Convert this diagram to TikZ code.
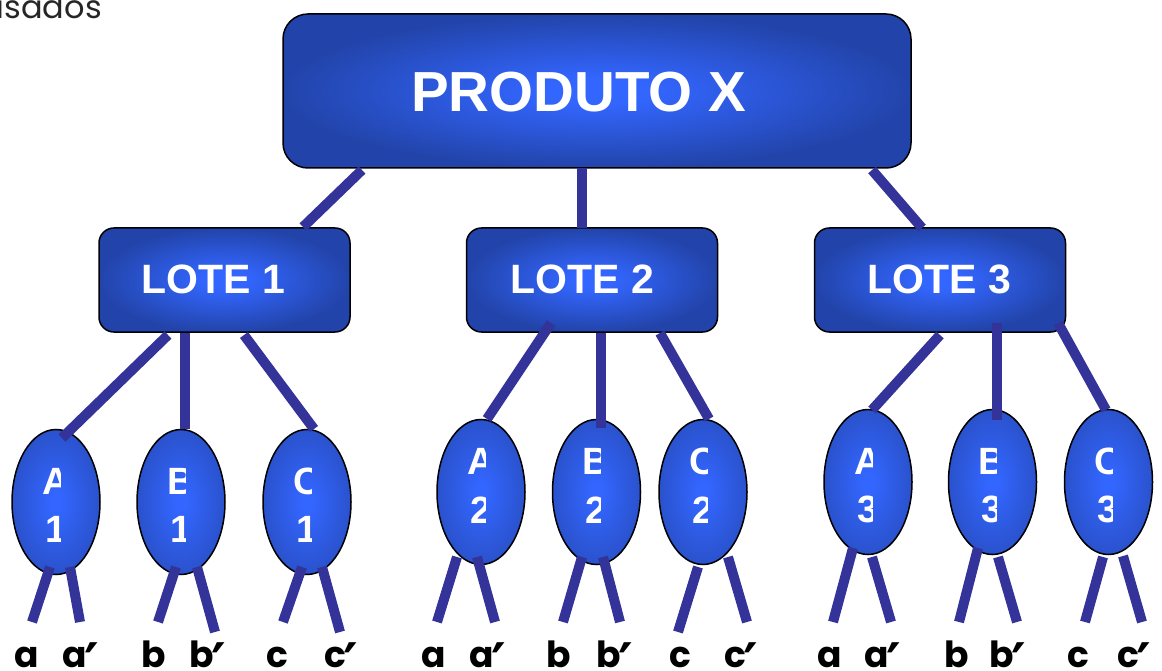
\documentclass[tikz,border=0pt]{standalone}
\usepackage{fontspec}
\setmainfont{Liberation Sans}
\newfontfamily\poppins{Poppins}
\newfontfamily\dejavu{DejaVu Sans}
\usetikzlibrary{shapes.geometric}
\definecolor{lightblue}{HTML}{3366FF}
\definecolor{boxdark}{HTML}{2244AA}
\definecolor{elldark}{HTML}{2A52CC}
\definecolor{connc}{HTML}{333399}
\pgfdeclareradialshading{boxshade}{\pgfpoint{0bp}{0bp}}{color(0bp)=(lightblue); color(4bp)=(lightblue); color(25bp)=(boxdark); color(50bp)=(boxdark)}
\pgfdeclareradialshading{ellshade}{\pgfpoint{0bp}{0bp}}{color(0bp)=(lightblue); color(3bp)=(lightblue); color(25bp)=(elldark); color(50bp)=(elldark)}
\tikzset{
  conn/.style={draw=connc, line width=10pt},
  topbox/.style={draw=black, line width=1.5pt, rounded corners=25pt, shading=boxshade, minimum width=628pt, minimum height=154pt},
  lotebox/.style={draw=black, line width=1.5pt, rounded corners=15pt, shading=boxshade, minimum width=251pt, minimum height=104pt},
  leaf/.style={ellipse, draw=black, line width=1.5pt, shading=ellshade, minimum width=88pt, minimum height=145pt, inner sep=0pt},
  boxtext/.style={text=white, font=\bfseries\fontsize{41}{48}\selectfont, inner sep=0pt},
  toptext/.style={text=white, font=\bfseries\fontsize{56.5}{62}\selectfont, inner sep=0pt},
  leaftext/.style={text=white, font=\bfseries\fontsize{38}{44}\selectfont, inner sep=0pt},
  lab/.style={anchor=base west, inner sep=0pt, text depth=0pt, font=\poppins\bfseries\fontsize{36}{40}\selectfont},
}
\newcommand\primech{\kern-2pt\raisebox{-16pt}{\dejavu\bfseries\fontsize{56}{60}\selectfont ′}}
% leaf with clipped two-line text: name, cx, cy, letter, digit, dy1, dy2
\newcommand\DrawLeaf[7]{%
  \node[leaf] (#1) at (#2,#3) {};
  \begin{scope}
    \clip (#2-40,#3-70) rectangle (#2+4,#3+70);
    \node[leaftext] (#1l) at (#2,#3+#6) {#4};
    \node[leaftext] (#1d) at (#2,#3+#7) {#5};
  \end{scope}
}
\begin{document}
\begin{tikzpicture}[x=1pt,y=-1pt]
\useasboundingbox (0,0) rectangle (1162,671);

\node[anchor=base west, inner sep=0pt, text=black!85, font=\poppins\fontsize{32}{36}\selectfont] (cap) at (-3.5,19) {isados};

% boxes
\node[topbox] (P) at (597,91) {};
\node[toptext] (Pt) at (578.5,92) {PRODUTO X};
\node[lotebox] (L1) at (224.5,280) {};
\node[boxtext] (L1t) at (213.5,279) {LOTE 1};
\node[lotebox] (L2) at (592,280) {};
\node[boxtext] (L2t) at (582.5,279) {LOTE 2};
\node[lotebox] (L3) at (940,280) {};
\node[boxtext] (L3t) at (939.5,279) {LOTE 3};

% leaves
\DrawLeaf{A1}{56}{502}{A}{1}{-21}{27}
\DrawLeaf{B1}{181}{502}{B}{1}{-21}{27}
\DrawLeaf{C1}{307}{502}{C}{1}{-21}{27}
\DrawLeaf{A2}{481}{492}{A}{2}{-31}{18}
\DrawLeaf{B2}{596.5}{492}{B}{2}{-31}{18}
\DrawLeaf{C2}{703}{492}{C}{2}{-31}{18}
\DrawLeaf{A3}{868}{482}{A}{3}{-21}{27}
\DrawLeaf{B3}{992.5}{482}{B}{3}{-21}{27}
\DrawLeaf{C3}{1108.5}{482}{C}{3}{-21}{27}

% connector end points
\coordinate (p1) at (362,170); \coordinate (q1) at (303,227);
\coordinate (p2) at (582,168); \coordinate (q2) at (582,228);
\coordinate (p3) at (872,170); \coordinate (q3) at (922,228);
\draw[conn] (p1) -- (q1);
\draw[conn] (p2) -- (q2);
\draw[conn] (p3) -- (q3);

\coordinate (l1a) at (168,335); \coordinate (e1a) at (62,438);
\coordinate (l1b) at (185,333); \coordinate (e1b) at (185,429);
\coordinate (l1c) at (244,335); \coordinate (e1c) at (314,429);
\coordinate (l2a) at (551,323); \coordinate (e2a) at (487,419);
\coordinate (l2b) at (601,333); \coordinate (e2b) at (601,428);
\coordinate (l2c) at (660,333); \coordinate (e2c) at (709,419);
\coordinate (l3a) at (940,335); \coordinate (e3a) at (872,410);
\coordinate (l3b) at (997,323); \coordinate (e3b) at (997,420);
\coordinate (l3c) at (1058,323); \coordinate (e3c) at (1106,410);
\foreach \s/\t in {l1a/e1a,l1b/e1b,l1c/e1c,l2a/e2a,l2b/e2b,l2c/e2c,l3a/e3a,l3b/e3b,l3c/e3c}
  \draw[conn] (\s) -- (\t);

% leaf to label connectors
\coordinate (A1x) at (50,567);   \coordinate (a1x) at (32,622);
\coordinate (A1y) at (70,567);   \coordinate (a1y) at (80,622);
\coordinate (B1x) at (176,567);  \coordinate (b1x) at (158,622);
\coordinate (B1y) at (197,567);  \coordinate (b1y) at (215,632);
\coordinate (C1x) at (302,567);  \coordinate (c1x) at (283,622);
\coordinate (C1y) at (322,567);  \coordinate (c1y) at (340,632);
\coordinate (A2x) at (457,557);  \coordinate (a2x) at (437,622);
\coordinate (A2y) at (477,557);  \coordinate (a2y) at (495,622);
\coordinate (B2x) at (582,557);  \coordinate (b2x) at (563,622);
\coordinate (B2y) at (603,557);  \coordinate (b2y) at (620,622);
\coordinate (C2x) at (698,567);  \coordinate (c2x) at (678,632);
\coordinate (C2y) at (728,557);  \coordinate (c2y) at (747,622);
\coordinate (A3x) at (853,548);  \coordinate (a3x) at (833,622);
\coordinate (A3y) at (872,557);  \coordinate (a3y) at (891,622);
\coordinate (B3x) at (978,548);  \coordinate (b3x) at (959,622);
\coordinate (B3y) at (998,557);  \coordinate (b3y) at (1017,622);
\coordinate (C3x) at (1103,557); \coordinate (c3x) at (1085,622);
\coordinate (C3y) at (1123,556); \coordinate (c3y) at (1142,622);
\foreach \n in {1,2,3}{
  \draw[conn] (A\n x) -- (a\n x); \draw[conn] (A\n y) -- (a\n y);
  \draw[conn] (B\n x) -- (b\n x); \draw[conn] (B\n y) -- (b\n y);
  \draw[conn] (C\n x) -- (c\n x); \draw[conn] (C\n y) -- (c\n y);
}

% labels
\node[lab] (ta1) at (14,667) {a};
\node[lab] (ta1p) at (62,667) {a\primech};
\node[lab] (tb1) at (141,667) {b};
\node[lab] (tb1p) at (189,667) {b\primech};
\node[lab] (tc1) at (266,667) {c};
\node[lab] (tc1p) at (324,667) {c\primech};
\node[lab] (ta2) at (421,667) {a};
\node[lab] (ta2p) at (469,667) {a\primech};
\node[lab] (tb2) at (546,667) {b};
\node[lab] (tb2p) at (596,667) {b\primech};
\node[lab] (tc2) at (669,667) {c};
\node[lab] (tc2p) at (724,667) {c\primech};
\node[lab] (ta3) at (817,667) {a};
\node[lab] (ta3p) at (864,667) {a\primech};
\node[lab] (tb3) at (944,667) {b};
\node[lab] (tb3p) at (989,667) {b\primech};
\node[lab] (tc3) at (1067,667) {c};
\node[lab] (tc3p) at (1117,667) {c\primech};
\end{tikzpicture}
\end{document}
